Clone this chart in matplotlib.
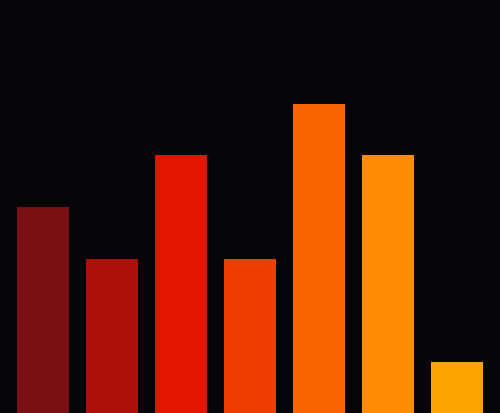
import matplotlib
matplotlib.use("Agg")
import matplotlib.pyplot as plt

categories = ["A", "B", "C", "D", "E", "F", "G"]
values = [4, 3, 5, 3, 6, 5, 1]
colors = ["#7a1013", "#ab1108", "#e41500", "#ef3c00", "#f96500", "#fe8b00", "#ffa300"]

fig = plt.figure(figsize=(5.0, 4.14), dpi=100)
fig.patch.set_facecolor("#050508")
ax = fig.add_axes([0, 0, 1, 1])
ax.set_facecolor("#050508")
x = list(range(len(categories)))
ax.bar(x, values, width=0.754, color=colors, edgecolor="none")
ax.set_xlim(-0.623, len(categories) - 1 + 0.623)
ax.set_ylim(0.02, 8.02)
ax.axis("off")
fig.savefig("out.png", dpi=100, facecolor=fig.get_facecolor())
